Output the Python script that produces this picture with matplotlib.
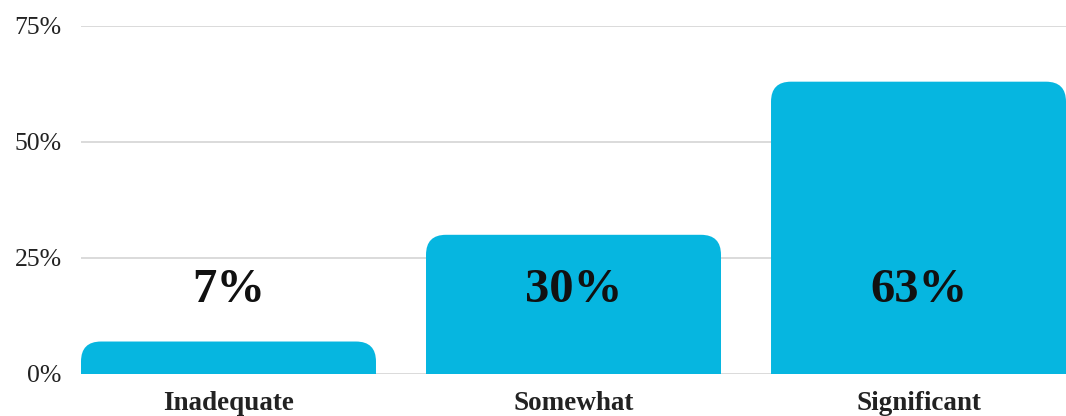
import numpy as np
import matplotlib.pyplot as plt
from matplotlib.path import Path
from matplotlib.patches import PathPatch

categories = ['Inadequate', 'Somewhat', 'Significant']
values = [7, 30, 63]
y_ticks = [0, 25, 50, 75]
label_y = 18  # value labels all sit at the same height

BAR_COLOR = '#06b6e0'
FONT = 'Liberation Serif'


def rounded_top(x0, w, h, rx, ry):
    ry = min(ry, h)
    verts = [
        (x0, 0), (x0, h - ry), (x0, h), (x0 + rx, h),
        (x0 + w - rx, h), (x0 + w, h), (x0 + w, h - ry),
        (x0 + w, 0), (x0, 0),
    ]
    codes = [Path.MOVETO, Path.LINETO, Path.CURVE3, Path.CURVE3,
             Path.LINETO, Path.CURVE3, Path.CURVE3,
             Path.LINETO, Path.CLOSEPOLY]
    return Path(verts, codes)


fig = plt.figure(figsize=(10.66, 4.16), dpi=100)
ax = fig.add_axes([81 / 1066, 42 / 416, 985 / 1066, 348 / 416])

x = np.arange(len(categories))
width = 0.855
bars = ax.bar(x, values, width=width, color=BAR_COLOR, zorder=2)

ax.set_xlim(-width / 2, len(categories) - 1 + width / 2)
ax.set_ylim(0, 75)

# swap the square bars for ones with rounded top corners (~20 px radius)
px_x = 985 / (ax.get_xlim()[1] - ax.get_xlim()[0])
px_y = 348 / 75
for b in bars:
    b.set_visible(False)
    p = rounded_top(b.get_x(), b.get_width(), b.get_height(), 20 / px_x, 20 / px_y)
    ax.add_patch(PathPatch(p, facecolor=BAR_COLOR, edgecolor='none', zorder=2))

for xi, v in zip(x, values):
    ax.text(xi, label_y, f'{v}%', ha='center', va='center', fontsize=35,
            fontweight='bold', family=FONT, color='#111111', zorder=3)

ax.set_yticks(y_ticks)
ax.set_yticklabels([f'{t}%' for t in y_ticks], family=FONT, fontsize=18.5, color='#222222')
ax.set_xticks(x)
ax.set_xticklabels(categories, family=FONT, fontsize=19.5, fontweight='bold', color='#222222')
ax.tick_params(axis='y', length=0, pad=14)
ax.tick_params(axis='x', length=0, pad=12)

ax.grid(axis='y', color='#d4d4d4', linewidth=1.2, zorder=1)
ax.set_axisbelow(True)
for s in ax.spines.values():
    s.set_visible(False)

fig.savefig('out.png', dpi=100)
